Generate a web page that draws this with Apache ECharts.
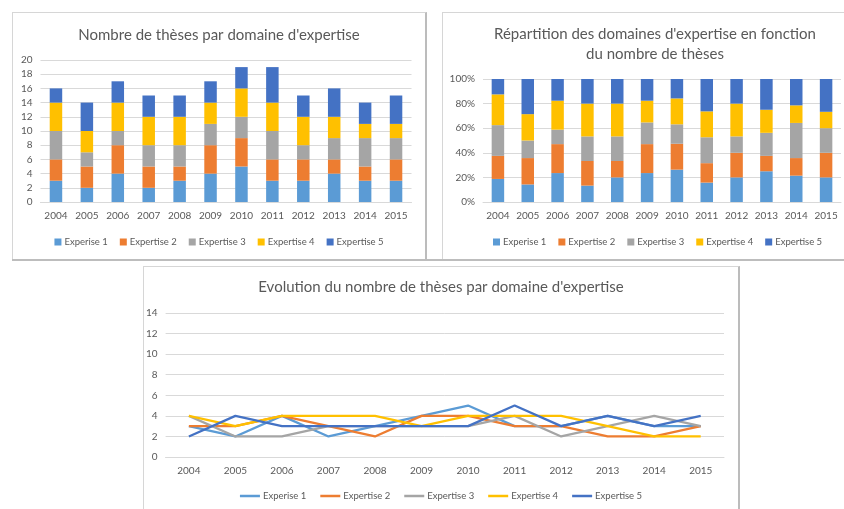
<!DOCTYPE html>
<html>
<head>
<meta charset="utf-8">
<script src="https://cdn.jsdelivr.net/npm/echarts@6/dist/echarts.min.js"></script>
<style>
  html, body { margin: 0; padding: 0; background: #fff; }
  body { width: 844px; height: 509px; position: relative; overflow: hidden; }
  .chart { position: absolute; }
  .frame { position: absolute; box-sizing: border-box; pointer-events: none;
           border: 1px solid #d6d6d6; border-right: 2px solid #bcbcbc; }
  .rule { position: absolute; height: 2px; background: #bdbdbd; }
</style>
</head>
<body>
<div id="counts" class="chart" style="left:12px;top:12px;width:414px;height:248px;"></div>
<div class="frame" style="left:12px;top:12px;width:415px;height:248px;"></div>

<div id="shares" class="chart" style="left:442px;top:12px;width:404px;height:248px;"></div>
<div class="frame" style="left:442px;top:12px;width:406px;height:248px;"></div>

<div class="rule" style="left:12px;top:259px;width:832px;"></div>

<div id="evolution" class="chart" style="left:143px;top:266px;width:596px;height:246px;"></div>
<div class="frame" style="left:143px;top:266px;width:597px;height:250px;"></div>

<script>
// Years on the category axis
const years = ['2004', '2005', '2006', '2007', '2008', '2009', '2010', '2011', '2012', '2013', '2014', '2015'];

// Number of theses per expertise domain and year
const expertise1 = [3, 2, 4, 2, 3, 4, 5, 3, 3, 4, 3, 3];
const expertise2 = [3, 3, 4, 3, 2, 4, 4, 3, 3, 2, 2, 3];
const expertise3 = [4, 2, 2, 3, 3, 3, 3, 4, 2, 3, 4, 3];
const expertise4 = [4, 3, 4, 4, 4, 3, 4, 4, 4, 3, 2, 2];
const expertise5 = [2, 4, 3, 3, 3, 3, 3, 5, 3, 4, 3, 4];

const seriesNames = ['Experise 1', 'Expertise 2', 'Expertise 3', 'Expertise 4', 'Expertise 5'];
const palette = ['#5B9BD5', '#ED7D31', '#A5A5A5', '#FFC000', '#4472C4'];

const allSeries = [expertise1, expertise2, expertise3, expertise4, expertise5];
const totals = years.map((_, i) => allSeries.reduce((s, arr) => s + arr[i], 0));
const shareOf = arr => arr.map((v, i) => v / totals[i] * 100);

const FONT = 'Lato, "Open Sans", sans-serif';
const TEXT = '#595959';
const GRID_LINE = '#d9d9d9';

function titleOpt(text, top) {
  return {
    text: text, left: 'center', top: top,
    textStyle: { fontFamily: FONT, fontSize: 15, fontWeight: 'normal', color: TEXT, lineHeight: 20 }
  };
}

function categoryAxis() {
  return {
    type: 'category', data: years,
    axisLine: { lineStyle: { color: GRID_LINE } },
    axisTick: { show: false },
    axisLabel: { fontFamily: FONT, fontSize: 10, color: TEXT, margin: 9, interval: 0 }
  };
}

function valueAxis(max, interval, fmt) {
  return {
    type: 'value', min: 0, max: max, interval: interval,
    axisLine: { show: false }, axisTick: { show: false },
    splitLine: { lineStyle: { color: GRID_LINE, width: 1 } },
    axisLabel: { fontFamily: FONT, fontSize: 10, color: TEXT, margin: 8, formatter: fmt || '{value}' }
  };
}

function legendOpt(icon, itemW, itemH, gap, top) {
  return {
    top: top, left: 'center', icon: icon,
    itemWidth: itemW, itemHeight: itemH, itemGap: gap,
    textStyle: { fontFamily: FONT, fontSize: 9.5, color: TEXT, padding: [0, 0, 0, -2] },
    data: seriesNames
  };
}

// Stacked counts
const counts = echarts.init(document.getElementById('counts'), null, { renderer: 'canvas' });
counts.setOption({
  animation: false,
  color: palette,
  title: titleOpt('Nombre de thèses par domaine d\'expertise', 8),
  grid: { left: 28.5, right: 14.5, top: 48, bottom: 58 },
  xAxis: categoryAxis(),
  yAxis: valueAxis(20, 2),
  legend: legendOpt('rect', 7, 7, 12, 220),
  series: allSeries.map((arr, k) => ({
    name: seriesNames[k], type: 'bar', stack: 'total', data: arr, barWidth: 12.5
  }))
});

// 100% stacked shares
const shares = echarts.init(document.getElementById('shares'), null, { renderer: 'canvas' });
shares.setOption({
  animation: false,
  color: palette,
  title: Object.assign(titleOpt('Répartition des domaines d\'expertise en fonction\ndu nombre de thèses', 7), { left: 208, textAlign: 'center' }),
  grid: { left: 41, right: 5, top: 67, bottom: 58 },
  xAxis: categoryAxis(),
  yAxis: valueAxis(100, 20, '{value}%'),
  legend: Object.assign(legendOpt('rect', 7, 7, 12, 220), { left: 46 }),
  series: allSeries.map((arr, k) => ({
    name: seriesNames[k], type: 'bar', stack: 'share', data: shareOf(arr), barWidth: 12.5
  }))
});

// Evolution lines
const evolution = echarts.init(document.getElementById('evolution'), null, { renderer: 'canvas' });
evolution.setOption({
  animation: false,
  color: palette,
  title: titleOpt('Evolution du nombre de thèses par domaine d\'expertise', 6),
  grid: { left: 22, right: 15, top: 47, bottom: 55 },
  xAxis: categoryAxis(),
  yAxis: valueAxis(14, 2),
  legend: legendOpt('path://M0,0 L20,0 L20,2.5 L0,2.5 Z', 20, 2.5, 14, 220),
  series: allSeries.map((arr, k) => ({
    name: seriesNames[k], type: 'line', data: arr,
    showSymbol: false, symbol: 'none',
    lineStyle: { width: 2.25, color: palette[k] }
  }))
});
</script>
</body>
</html>
